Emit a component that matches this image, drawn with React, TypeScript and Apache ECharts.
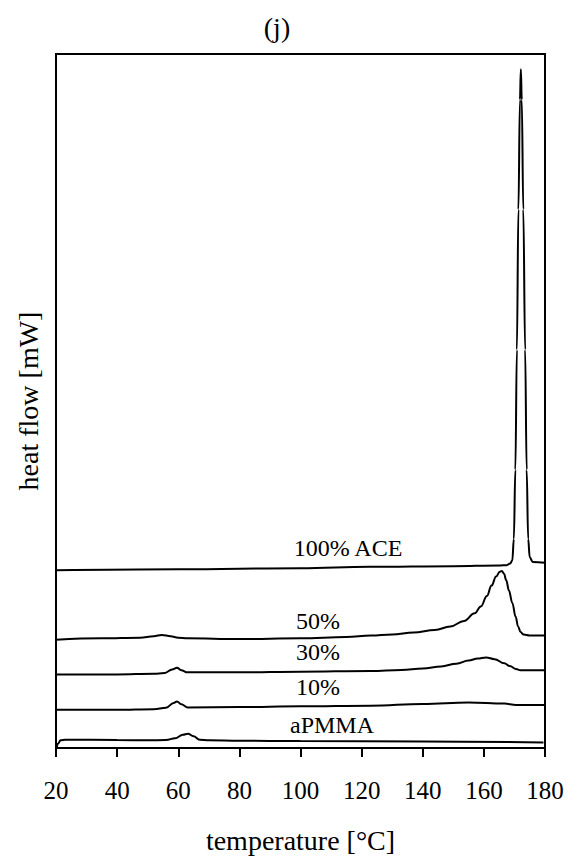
import React, { useEffect, useRef } from "react";
import * as echarts from "echarts";

// x: temperature [°C], y: heat flow (arbitrary, stacked offsets)
const ace100: [number, number][] = [
  [20, 25.6], [60, 25.75], [100, 25.9], [122.6, 26.1], [150, 26.2], [165, 26.3],
  [167.5, 26.35], [168.6, 26.6], [169.3, 27.0], [169.8, 30.1], [170.3, 40.1], [170.8, 57.4],
  [171.3, 77.6], [171.8, 93.4], [172.1, 97.8], [172.4, 93.4], [172.9, 77.6], [173.5, 57.4],
  [174.0, 40.1], [174.5, 30.1], [175.0, 27.5], [176.0, 26.8], [180, 26.7],
];
const pct50: [number, number][] = [
  [20, 15.6], [35, 15.8], [47.5, 15.9], [52, 16.1], [54.6, 16.3], [57.5, 16.1], [60, 15.9],
  [63, 15.8], [80, 15.7], [100, 15.8], [115, 16.0], [123, 16.2], [130, 16.35], [137, 16.65],
  [144, 17.0], [149, 17.5], [153.5, 18.3], [157, 19.4], [159, 20.4], [161, 21.9],
  [162.5, 23.4], [164, 24.7], [165.2, 25.4], [165.9, 25.5], [166.6, 25.1], [167.3, 24.2],
  [168.2, 22.7], [169.3, 20.9], [170.4, 18.9], [171.2, 17.5], [172, 16.7], [173, 16.35],
  [175, 16.2], [180, 16.2],
];
const pct30: [number, number][] = [
  [20, 10.6], [40, 10.6], [52, 10.7], [55.5, 10.8], [58, 11.3], [59.6, 11.55], [61, 11.2],
  [63, 10.9], [70, 10.9], [80, 10.9], [100, 11.0], [123, 11.1], [133, 11.25], [140, 11.45],
  [146, 11.75], [151, 12.15], [155, 12.6], [158, 12.9], [160.7, 13.05], [163.5, 12.8],
  [166.7, 12.2], [168.5, 11.8], [170.5, 11.4], [172, 11.2], [180, 11.2],
];
const pct10: [number, number][] = [
  [20, 5.5], [40, 5.5], [52, 5.6], [56, 5.8], [58.5, 6.5], [59.6, 6.7], [61, 6.3], [63, 5.85],
  [80, 5.9], [100, 6.0], [123, 6.1], [140, 6.35], [155, 6.55], [166.7, 6.4], [170.5, 6.2],
  [180, 6.2],
];
const apmma: [number, number][] = [
  [20.2, 0.0], [20.6, 0.6], [21.5, 1.1], [23, 1.2], [40, 1.15], [50, 1.1], [56, 1.15],
  [59, 1.4], [61.5, 1.9], [63.2, 2.05], [65, 1.7], [67, 1.2], [70, 1.1], [80, 1.05],
  [100, 1.0], [140, 0.95], [179.5, 0.8],
];

const xTicks = { min: 20, max: 180, interval: 20 };
const curveLabels = ["100% ACE", "50%", "30%", "10%", "aPMMA"];
const titleText = "(j)";
const xName = "temperature [°C]";
const yName = "heat flow [mW]";

const FONT = "Liberation Serif, Times New Roman, serif";

export default function App() {
  const ref = useRef<HTMLDivElement>(null);
  useEffect(() => {
    if (!ref.current) return;
    const chart = echarts.init(ref.current, null, { renderer: "svg" });
    const line = (name: string, data: [number, number][]) => ({
      name,
      type: "line",
      data,
      showSymbol: false,
      symbol: "none",
      smooth: 0.4,
      smoothMonotone: "x",
      lineStyle: { color: "#000", width: 2 },
      clip: true,
    });
    const labelPos: [number, number][] = [
      [348, 548], [318, 621], [318, 652], [318, 687], [332, 725],
    ];
    chart.setOption({
      animation: false,
      backgroundColor: "#fff",
      textStyle: { fontFamily: FONT, color: "#000" },
      grid: {
        left: 56, right: 32, top: 54, bottom: 110,
        show: true, borderColor: "#000", borderWidth: 2, backgroundColor: "transparent",
      },
      xAxis: {
        type: "value",
        min: xTicks.min, max: xTicks.max, interval: xTicks.interval,
        name: xName,
        nameLocation: "middle",
        nameGap: 92,
        nameTextStyle: { fontFamily: FONT, fontSize: 28, color: "#000", verticalAlign: "middle" },
        axisLine: { show: true, lineStyle: { color: "#000", width: 2 } },
        axisTick: { show: true, inside: false, length: 9, lineStyle: { color: "#000", width: 2 } },
        axisLabel: { fontFamily: FONT, fontSize: 25, color: "#000", margin: 30 },
        splitLine: { show: false },
      },
      yAxis: {
        type: "value",
        min: 0, max: 100,
        name: yName,
        nameLocation: "middle",
        nameGap: 28,
        nameRotate: 90,
        nameTextStyle: { fontFamily: FONT, fontSize: 28, color: "#000", verticalAlign: "middle" },
        axisLine: { show: true, lineStyle: { color: "#000", width: 2 } },
        axisTick: { show: false },
        axisLabel: { show: false },
        splitLine: { show: false },
      },
      series: [
        line(curveLabels[0], ace100),
        line(curveLabels[1], pct50),
        line(curveLabels[2], pct30),
        line(curveLabels[3], pct10),
        line(curveLabels[4], apmma),
      ],
      graphic: [
        {
          type: "text",
          x: 277,
          y: 27,
          style: {
            text: titleText,
            fontFamily: FONT,
            fontSize: 28,
            fill: "#000",
            align: "center",
            verticalAlign: "middle",
          },
        },
        ...curveLabels.map((t, i) => ({
          type: "text",
          x: labelPos[i][0],
          y: labelPos[i][1],
          style: {
            text: t,
            fontFamily: FONT,
            fontSize: 24,
            fill: "#000",
            align: "center",
            verticalAlign: "middle",
          },
        })),
      ],
    });
    return () => chart.dispose();
  }, []);
  return (
    <div
      ref={ref}
      style={{ position: "absolute", left: 0, top: 0, width: 577, height: 859 }}
    />
  );
}
